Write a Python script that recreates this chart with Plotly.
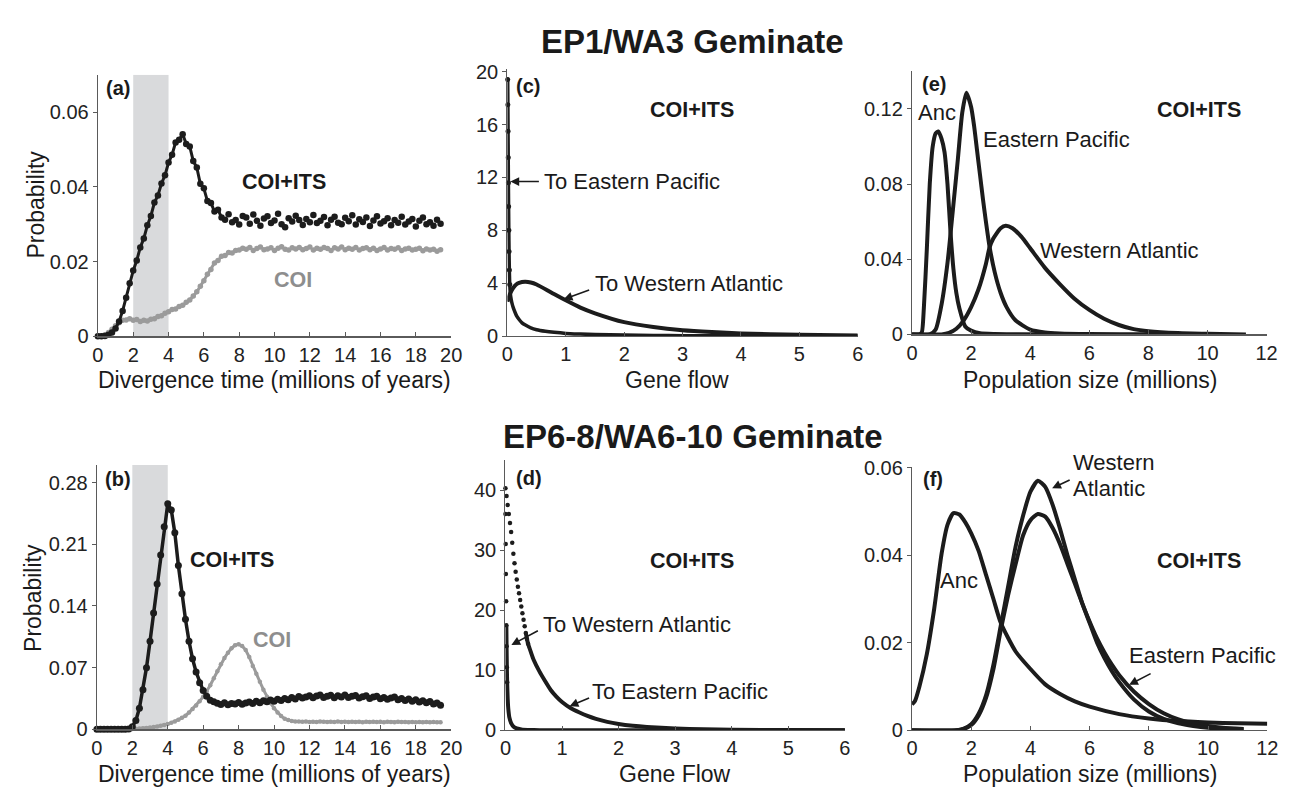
import plotly.graph_objects as go

W, H = 1292, 792
FONT = "Liberation Sans, Arial, sans-serif"
INK = "#1c1c1c"
GRAY = "#9b9b9b"
GRAYTXT = "#8e8e8e"
AXC = "#5a5a5a"

# ---------------- data ----------------
# (a) EP1/WA3 divergence time, sampled every 0.2 Myr from 0 to 19.4
A_STEP = 0.2
A_COIITS = [0.0000, 0.0000, 0.0001, 0.0004, 0.0010, 0.0021, 0.0040, 0.0068, 0.0103, 0.0142,
            0.0176, 0.0203, 0.0238, 0.0262, 0.0297, 0.0322, 0.0358, 0.0377, 0.0409, 0.0431,
            0.0465, 0.0486, 0.0519, 0.0526, 0.0541, 0.0515, 0.0508, 0.0469, 0.0452, 0.0408,
            0.0396, 0.0362, 0.0357, 0.0334, 0.0339, 0.0318, 0.0312, 0.0327, 0.0305, 0.0311,
            0.0299, 0.0322, 0.0318, 0.0301, 0.0326, 0.0309, 0.0296, 0.0315, 0.0321, 0.0303,
            0.0310, 0.0328, 0.0300, 0.0292, 0.0316, 0.0307, 0.0323, 0.0311, 0.0298, 0.0314,
            0.0305, 0.0325, 0.0303, 0.0309, 0.0319, 0.0297, 0.0312, 0.0320, 0.0304, 0.0300,
            0.0317, 0.0308, 0.0324, 0.0299, 0.0313, 0.0306, 0.0318, 0.0295, 0.0310, 0.0321,
            0.0302, 0.0308, 0.0316, 0.0297, 0.0311, 0.0304, 0.0320, 0.0299, 0.0307, 0.0314,
            0.0294, 0.0309, 0.0318, 0.0300, 0.0305, 0.0296, 0.0312, 0.0301]
A_COI = [0.0000, 0.0001, 0.0004, 0.0010, 0.0019, 0.0028, 0.0036, 0.0043, 0.0044, 0.0047,
         0.0043, 0.0045, 0.0040, 0.0043, 0.0041, 0.0046, 0.0047, 0.0053, 0.0055, 0.0062,
         0.0066, 0.0072, 0.0073, 0.0080, 0.0083, 0.0091, 0.0097, 0.0108, 0.0119, 0.0134,
         0.0149, 0.0166, 0.0179, 0.0196, 0.0203, 0.0214, 0.0216, 0.0224, 0.0223, 0.0230,
         0.0231, 0.0236, 0.0233, 0.0238, 0.0230, 0.0235, 0.0239, 0.0232, 0.0234, 0.0237,
         0.0230, 0.0236, 0.0240, 0.0233, 0.0231, 0.0237, 0.0234, 0.0238, 0.0232, 0.0235,
         0.0239, 0.0231, 0.0236, 0.0233, 0.0238, 0.0235, 0.0230, 0.0237, 0.0234, 0.0239,
         0.0232, 0.0236, 0.0233, 0.0238, 0.0231, 0.0235, 0.0237, 0.0232, 0.0236, 0.0230,
         0.0234, 0.0238, 0.0231, 0.0235, 0.0233, 0.0237, 0.0230, 0.0234, 0.0236, 0.0231,
         0.0233, 0.0236, 0.0229, 0.0234, 0.0231, 0.0233, 0.0228, 0.0232]

# (b) EP6-8/WA6-10 divergence time, sampled every 0.2 Myr from 0 to 19.4
B_COIITS = [0, 0, 0, 0, 0, 0, 0, 0, 0, 0.0005,
            0.0030, 0.0100, 0.0240, 0.0450, 0.0700, 0.1000, 0.1320, 0.1650, 0.1980, 0.2300,
            0.2560, 0.2490, 0.2230, 0.1860, 0.1540, 0.1250, 0.1000, 0.0800, 0.0650, 0.0530,
            0.0440, 0.0375, 0.0330, 0.0312, 0.0296, 0.0283, 0.0301, 0.0278, 0.0292, 0.0287,
            0.0305, 0.0284, 0.0298, 0.0311, 0.0293, 0.0318, 0.0302, 0.0325, 0.0314, 0.0332,
            0.0319, 0.0341, 0.0328, 0.0350, 0.0337, 0.0361, 0.0345, 0.0372, 0.0356, 0.0368,
            0.0381, 0.0359, 0.0377, 0.0390, 0.0362, 0.0375, 0.0386, 0.0358, 0.0380, 0.0367,
            0.0389, 0.0361, 0.0374, 0.0385, 0.0355, 0.0371, 0.0382, 0.0351, 0.0366, 0.0376,
            0.0347, 0.0362, 0.0340, 0.0356, 0.0367, 0.0336, 0.0349, 0.0328, 0.0343, 0.0319,
            0.0335, 0.0310, 0.0324, 0.0301, 0.0315, 0.0288, 0.0299, 0.0272]
B_COI = [0, 0, 0, 0, 0, 0, 0, 0, 0, 0,
         0.0005, 0.0007, 0.0010, 0.0012, 0.0015, 0.0020, 0.0025, 0.0032, 0.0040, 0.0050,
         0.0060, 0.0075, 0.0090, 0.0110, 0.0130, 0.0155, 0.0190, 0.0230, 0.0270, 0.0320,
         0.0370, 0.0430, 0.0500, 0.0580, 0.0660, 0.0740, 0.0810, 0.0870, 0.0920, 0.0955,
         0.0965, 0.0945, 0.0900, 0.0820, 0.0720, 0.0630, 0.0540, 0.0450, 0.0370, 0.0300,
         0.0240, 0.0190, 0.0150, 0.0120, 0.0105, 0.0095, 0.0090, 0.0088, 0.0086, 0.0089,
         0.0084, 0.0087, 0.0083, 0.0088, 0.0085, 0.0082, 0.0087, 0.0084, 0.0088, 0.0083,
         0.0086, 0.0082, 0.0087, 0.0084, 0.0086, 0.0081, 0.0085, 0.0083, 0.0087, 0.0082,
         0.0085, 0.0081, 0.0086, 0.0083, 0.0080, 0.0085, 0.0082, 0.0084, 0.0080, 0.0083,
         0.0081, 0.0084, 0.0080, 0.0082, 0.0079, 0.0083, 0.0080, 0.0081]

# (c) gene flow, EP1/WA3
C_EP_X = [0.005, 0.008, 0.011, 0.014, 0.017, 0.02, 0.024, 0.028, 0.033, 0.04, 0.05, 0.065, 0.08,
          0.1, 0.13, 0.16, 0.2, 0.25, 0.3, 0.4, 0.5, 0.65, 0.8, 1.0, 1.25, 1.5, 2.0, 2.5, 3.0, 4.0, 5.0, 6.0]
C_EP_Y = [19.4, 17.5, 15.5, 13.5, 11.6, 9.8, 8.0, 6.4, 5.0, 3.9, 3.2, 2.75, 2.45,
          2.15, 1.8, 1.5, 1.25, 1.0, 0.85, 0.62, 0.48, 0.36, 0.28, 0.2, 0.15, 0.11, 0.07, 0.045, 0.03, 0.016, 0.009, 0.005]
C_WA_X = [0, 0.05, 0.1, 0.15, 0.2, 0.3, 0.4, 0.5, 0.75, 1.0, 1.25, 1.5, 2.0, 2.5, 3.0, 3.5, 4.0, 5.0, 6.0]
C_WA_Y = [2.6, 3.25, 3.65, 3.9, 4.02, 4.1, 4.05, 3.9, 3.3, 2.7, 2.15, 1.72, 1.05, 0.68, 0.44, 0.3, 0.2, 0.1, 0.05]

# (d) gene flow, EP6-8/WA6-10
D_EP_X = [0, 0.02, 0.04, 0.06, 0.08, 0.10, 0.12, 0.14, 0.16, 0.18, 0.20, 0.22, 0.24, 0.26, 0.28, 0.30,
          0.32, 0.34, 0.36, 0.38, 0.40, 0.45, 0.5, 0.6, 0.7, 0.8, 0.9, 1.0, 1.15, 1.3, 1.45, 1.6, 1.8,
          2.0, 2.25, 2.5, 3.0, 3.5, 4.0, 5.0, 6.0]
D_EP_Y = [40.3, 39.0, 37.5, 36.0, 34.5, 33.0, 31.2, 29.4, 27.8, 26.4, 25.1, 23.9, 22.8, 21.7, 20.6, 19.5,
          18.4, 17.3, 16.2, 15.2, 14.4, 13.0, 11.7, 9.8, 8.2, 6.7, 5.6, 4.7, 3.7, 3.0, 2.4, 1.9, 1.4,
          1.05, 0.75, 0.55, 0.3, 0.16, 0.09, 0.03, 0.01]
D_WA_X = [0.0, 0.004, 0.008, 0.012, 0.016, 0.02, 0.025, 0.03, 0.04, 0.05, 0.07, 0.1, 0.15, 0.2,
          0.3, 0.4, 0.6, 1.0, 2.0, 4.0, 6.0]
D_WA_Y = [36, 31, 26, 21.5, 17.5, 14, 10.5, 8.0, 5.2, 3.6, 2.1, 1.2, 0.55, 0.3,
          0.1, 0.05, 0.02, 0.01, 0.004, 0.001, 0]

# (e) population size, EP1/WA3
E_ANC_X = [0, 0.25, 0.33, 0.4, 0.5, 0.6, 0.7, 0.8, 0.89, 1.0, 1.1, 1.2, 1.3, 1.4, 1.5, 1.6, 1.8,
           2.0, 2.3, 2.8, 3.5, 5.6]
E_ANC_Y = [0, 0, 0.001, 0.014, 0.045, 0.08, 0.1, 0.107, 0.108, 0.104, 0.097, 0.08, 0.055, 0.035,
           0.022, 0.014, 0.0042, 0.002, 0.0006, 0.0002, 0.0001, 0]
E_EP_X = [0, 0.6, 0.8, 1.0, 1.2, 1.4, 1.55, 1.7, 1.84, 2.0, 2.1, 2.2, 2.3, 2.4, 2.5, 2.62, 2.8, 3.0,
          3.2, 3.5, 4.0, 4.5, 5.0, 6.0, 8.0, 10.5]
E_EP_Y = [0, 0, 0.0026, 0.016, 0.038, 0.069, 0.093, 0.118, 0.1286, 0.121, 0.111, 0.098, 0.085, 0.072,
          0.06, 0.047, 0.033, 0.022, 0.0145, 0.0075, 0.0025, 0.001, 0.0005, 0.0002, 0.0001, 0]
E_WA_X = [0, 1.0, 1.25, 1.5, 1.75, 2.0, 2.25, 2.5, 2.62, 2.75, 3.0, 3.17, 3.4, 3.7, 4.0, 4.5, 5.0,
          5.5, 6.0, 6.5, 7.0, 7.5, 8.0, 9.0, 10.0, 11.3]
E_WA_Y = [0, 0, 0.0008, 0.003, 0.0075, 0.0145, 0.024, 0.0375, 0.046, 0.051, 0.0565, 0.0578, 0.0565,
          0.052, 0.0458, 0.0354, 0.0268, 0.019, 0.013, 0.0083, 0.005, 0.0028, 0.0017, 0.0007, 0.0003, 0]

# (f) population size, EP6-8/WA6-10
F_ANC_X = [0, 0.1, 0.25, 0.5, 0.75, 1.0, 1.2, 1.4, 1.6, 1.8, 2.0, 2.25, 2.5, 2.75, 3.0, 3.5, 4.0,
           4.5, 5.0, 5.5, 6.0, 7.0, 8.0, 9.0, 10.0, 11.0, 12.0]
F_ANC_Y = [0.0059, 0.0067, 0.010, 0.0174, 0.0278, 0.0404, 0.047, 0.0496, 0.0493, 0.0475, 0.045,
           0.041, 0.0355, 0.030, 0.0245, 0.0180, 0.0140, 0.0105, 0.0083, 0.0066, 0.0054, 0.0037,
           0.0027, 0.0021, 0.0018, 0.0016, 0.0015]
F_X = [0, 1.5, 1.75, 2, 2.25, 2.5, 2.75, 3, 3.25, 3.5, 3.75, 4, 4.25, 4.5, 4.75, 5, 5.25, 5.5,
       5.75, 6, 6.25, 6.5, 6.75, 7, 7.5, 8, 8.5, 9, 9.5, 10, 10.5, 11.2]
F_WA_Y = [0, 0, 0.0004, 0.0014, 0.0038, 0.008, 0.015, 0.024, 0.033, 0.042, 0.049, 0.0545, 0.057,
          0.0556, 0.0515, 0.046, 0.040, 0.0345, 0.029, 0.0245, 0.020, 0.0165, 0.0135, 0.011, 0.007,
          0.0043, 0.0026, 0.0016, 0.001, 0.0006, 0.0004, 0.0002]
F_EP_Y = [0, 0, 0.0003, 0.0012, 0.0034, 0.0074, 0.014, 0.023, 0.031, 0.038, 0.0445, 0.048, 0.0494,
          0.0488, 0.0462, 0.0425, 0.038, 0.0335, 0.029, 0.0248, 0.021, 0.0178, 0.015, 0.0126, 0.0088,
          0.006, 0.0039, 0.0025, 0.0016, 0.001, 0.0006, 0.0003]

SHADE = [2, 4]  # Myr window shaded in (a) and (b)

# ---------------- layout helpers ----------------
fig = go.Figure()

PANELS = {
    1: dict(l=85, r=443, b=327, t=58.3, xr=[0, 20], yr=[0, 0.07], xt=list(range(0, 21, 2)),
            yt=[0, 0.02, 0.04, 0.06], ytt=["0", "0.02", "0.04", "0.06"]),
    2: dict(l=84, r=443, b=730.7, t=459.2, xr=[0, 20], yr=[0, 0.3], xt=list(range(0, 21, 2)),
            yt=[0, 0.07, 0.14, 0.21, 0.28], ytt=["0", "0.07", "0.14", "0.21", "0.28"]),
    3: dict(l=500, r=855, b=326.7, t=52.4, xr=[0, 6], yr=[0, 20.2], xt=list(range(0, 7)),
            yt=[0, 4, 8, 12, 16, 20], ytt=None),
    4: dict(l=498, r=842, b=731.7, t=454, xr=[0, 6], yr=[0, 45], xt=list(range(0, 7)),
            yt=[0, 10, 20, 30, 40], ytt=None),
    5: dict(l=910, r=1269.3, b=325, t=54.7, xr=[0, 12], yr=[0, 0.14], xt=list(range(0, 13, 2)),
            yt=[0, 0.04, 0.08, 0.12], ytt=["0", "0.04", "0.08", "0.12"]),
    6: dict(l=910, r=1270, b=731.7, t=461, xr=[0, 12], yr=[0, 0.0602], xt=list(range(0, 13, 2)),
            yt=[0, 0.02, 0.04, 0.06], ytt=["0", "0.02", "0.04", "0.06"]),
}

TICKFONT = dict(family=FONT, size=20, color="#222")
layout_axes = {}
for i, p in PANELS.items():
    s = "" if i == 1 else str(i)
    layout_axes["xaxis" + s] = dict(
        domain=[p["l"] / W, p["r"] / W], range=p["xr"], anchor="y" + s,
        tickvals=p["xt"], ticks="inside", ticklen=4, tickcolor=AXC, tickwidth=1,
        showline=True, linecolor=AXC, linewidth=1.2, showgrid=False, zeroline=False,
        tickfont=TICKFONT, fixedrange=True)
    ya = dict(
        domain=[1 - p["b"] / H, 1 - p["t"] / H], range=p["yr"], anchor="x" + s,
        tickvals=p["yt"], ticks="outside", ticklen=4, tickcolor=AXC, tickwidth=1,
        showline=True, linecolor=AXC, linewidth=1.2, showgrid=False, zeroline=False,
        tickfont=TICKFONT, fixedrange=True)
    if p["ytt"]:
        ya["ticktext"] = p["ytt"]
    layout_axes["yaxis" + s] = ya


def ax(i):
    s = "" if i == 1 else str(i)
    return dict(xaxis="x" + s, yaxis="y" + s)


def line(i, x, y, color, lw):
    fig.add_trace(go.Scatter(x=x, y=y, mode="lines", **ax(i), cliponaxis=False,
                             line=dict(color=color, width=lw),
                             hoverinfo="skip", showlegend=False))


def points(i, x, y, size=4.5, color=INK):
    fig.add_trace(go.Scatter(x=x, y=y, mode="markers", **ax(i), cliponaxis=False,
                             marker=dict(color=color, size=size, line=dict(width=0)),
                             hoverinfo="skip", showlegend=False))


def curve(i, x, y, lw=4):
    fig.add_trace(go.Scatter(x=x, y=y, mode="lines", **ax(i), cliponaxis=False,
                             line=dict(color=INK, width=lw, shape="spline", smoothing=0.6),
                             hoverinfo="skip", showlegend=False))


# ---------------- traces ----------------
TA = [round(k * A_STEP, 1) for k in range(len(A_COIITS))]
TB = [round(k * A_STEP, 1) for k in range(len(B_COIITS))]

# (a): dotted sample clouds, joined only where the curve is steep
line(1, TA[:41], A_COI[:41], GRAY, 3)
points(1, TA, A_COI, 5.5, GRAY)
line(1, TA[:36], A_COIITS[:36], INK, 3)
points(1, TA, A_COIITS, 6.5, INK)

# (b)
line(2, TB, B_COI, GRAY, 3)
points(2, TB, B_COI, 4.5, GRAY)
line(2, TB[:34], B_COIITS[:34], INK, 3.5)
points(2, TB, B_COIITS, 7, INK)

# (c)
curve(3, C_WA_X, C_WA_Y)
points(3, C_EP_X[:10], C_EP_Y[:10], 5)
curve(3, C_EP_X, C_EP_Y, 3.5)

# (d)
points(4, D_EP_X[:21], D_EP_Y[:21], 4.5)
curve(4, D_EP_X[18:], D_EP_Y[18:], 4)
points(4, D_WA_X[:8], D_WA_Y[:8], 4.5)
curve(4, D_WA_X[4:], D_WA_Y[4:], 4)

# (e)
curve(5, E_ANC_X, E_ANC_Y)
curve(5, E_EP_X, E_EP_Y)
curve(5, E_WA_X, E_WA_Y)

# (f)
curve(6, F_ANC_X, F_ANC_Y)
curve(6, F_X, F_EP_Y)
curve(6, F_X, F_WA_Y)

# ---------------- shapes ----------------
shapes = []
for i, ytop in ((1, 0.07), (2, 0.3)):
    s = "" if i == 1 else str(i)
    shapes.append(dict(type="rect", xref="x" + s, yref="y" + s, x0=SHADE[0], x1=SHADE[1],
                       y0=0, y1=ytop, fillcolor="#d9dadc", line=dict(width=0), layer="below"))

# ---------------- text ----------------
def txt(text, x, y, size, bold=False, color="#1a1a1a", xanchor="center", angle=0):
    fig.add_annotation(xref="paper", yref="paper", x=x / W, y=1 - y / H,
                       text=f"<b>{text}</b>" if bold else text, showarrow=False,
                       font=dict(family=FONT, size=size, color=color),
                       xanchor=xanchor, yanchor="middle", textangle=angle, borderpad=0)


def arrow(hx, hy, tx, ty):
    fig.add_annotation(xref="paper", yref="paper", x=hx / W, y=1 - hy / H,
                       ax=tx - hx, ay=ty - hy, axref="pixel", ayref="pixel", text="",
                       showarrow=True, arrowhead=2, arrowsize=1.1, arrowwidth=1.6,
                       arrowcolor="#1a1a1a")


txt("EP1/WA3 Geminate", 688, 24, 33, bold=True)
txt("EP6-8/WA6-10 Geminate", 688, 430, 33, bold=True)

for yy in (372, 777):
    txt("Divergence time (millions of years)", 264, yy, 23)
    txt("Population size (millions)", 1090, yy, 23)
txt("Gene flow", 672, 372, 23)
txt("Gene Flow", 670, 777, 23)
txt("Probability", 22, 192, 23, angle=-90)
txt("Probability", 19, 596, 23, angle=-90)

txt("(a)", 92, 72, 20, bold=True, xanchor="left")
txt("COI+ITS", 274, 168, 21.5, bold=True)
txt("COI", 283, 269, 21.5, bold=True, color=GRAYTXT)

txt("(b)", 91, 474, 20, bold=True, xanchor="left")
txt("COI+ITS", 221, 557, 21.5, bold=True)
txt("COI", 261, 639, 21.5, bold=True, color=GRAYTXT)

txt("(c)", 508, 70, 20, bold=True, xanchor="left")
txt("COI+ITS", 687, 94, 21.5, bold=True)
txt("To Eastern Pacific", 536, 168, 22, xanchor="left")
arrow(503, 168, 533, 168)
txt("To Western Atlantic", 588, 273, 22, xanchor="left")
arrow(557, 289, 584, 279)

txt("(d)", 508, 473, 20, bold=True, xanchor="left")
txt("COI+ITS", 687, 558, 21.5, bold=True)
txt("To Western Atlantic", 535, 623, 22, xanchor="left")
arrow(504, 644, 532, 629)
txt("To Eastern Pacific", 585, 692, 22, xanchor="left")
arrow(563, 707, 584, 698)

txt("(e)", 919, 68, 20, bold=True, xanchor="left")
txt("Anc", 915, 97, 22, xanchor="left")
txt("Eastern Pacific", 981, 125, 22, xanchor="left")
txt("Western Atlantic", 1039, 239, 22, xanchor="left")
txt("COI+ITS", 1201, 95, 21.5, bold=True)

txt("(f)", 920, 474, 20, bold=True, xanchor="left")
txt("Western", 1072, 457, 22, xanchor="left")
txt("Atlantic", 1072, 483, 22, xanchor="left")
arrow(1052, 483, 1071, 474)
txt("Anc", 937, 578, 22, xanchor="left")
txt("COI+ITS", 1201, 558, 21.5, bold=True)
txt("Eastern Pacific", 1129, 655, 22, xanchor="left")
arrow(1130, 685, 1153, 673)

fig.update_layout(width=W, height=H, margin=dict(l=0, r=0, t=0, b=0),
                  paper_bgcolor="white", plot_bgcolor="rgba(0,0,0,0)",
                  showlegend=False, shapes=shapes, hovermode=False, **layout_axes)

fig.write_html("out.html", config={"displayModeBar": False, "staticPlot": True})
